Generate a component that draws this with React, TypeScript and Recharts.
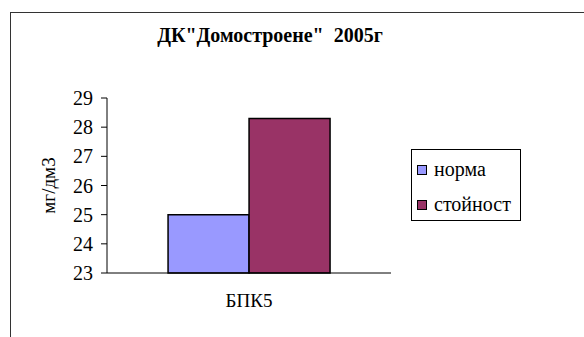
import React from "react";
import { BarChart, Bar, XAxis, YAxis, Legend } from "recharts";

const categories = ["БПК5"];
const normaValues = [25];
const stoynostValues = [28.3];
const yTicks = [23, 24, 25, 26, 27, 28, 29];
const seriesNames = ["норма", "стойност"];
const seriesColors = ["#9999FF", "#993366"];

const data = categories.map((c, i) => ({
  name: c,
  norma: normaValues[i],
  stoynost: stoynostValues[i],
}));

const FONT = "Liberation Serif, Tinos, DejaVu Serif, serif";

const LegendContent = () => (
  <div
    style={{
      border: "1px solid #000",
      background: "#fff",
      width: 110,
      height: 72,
      boxSizing: "border-box",
      fontFamily: FONT,
      fontSize: 20,
      color: "#000",
      paddingLeft: 5,
      paddingTop: 2,
    }}
  >
    {seriesNames.map((n, i) => (
      <div key={n} style={{ display: "flex", alignItems: "center", height: 35 }}>
        <span
          style={{
            display: "inline-block",
            width: 8,
            height: 8,
            background: seriesColors[i],
            border: "1.5px solid #000",
            marginRight: 7,
          }}
        />
        <span>{n}</span>
      </div>
    ))}
  </div>
);

export default function App() {
  return (
    <div
      style={{
        position: "absolute",
        left: 0,
        top: 0,
        width: 584,
        height: 337,
        overflow: "hidden",
        background: "#fff",
      }}
    >
      <div
        style={{
          position: "absolute",
          left: 10,
          top: 12,
          width: 700,
          height: 500,
          borderLeft: "1.5px solid #333",
          borderTop: "1.5px solid #333",
        }}
      />
      <div
        style={{
          position: "absolute",
          left: 0,
          width: 540,
          top: 24,
          textAlign: "center",
          fontFamily: FONT,
          fontWeight: "bold",
          fontSize: 20,
          whiteSpace: "pre",
          color: "#000",
        }}
      >
        {'ДК"Домостроене"  2005г'}
      </div>
      <div style={{ position: "absolute", left: 0, top: 0 }}>
        <BarChart
          width={584}
          height={337}
          data={data}
          margin={{ top: 98, right: 193, left: 0, bottom: 34 }}
          barCategoryGap="21.5%"
          barGap={0}
        >
          <XAxis
            dataKey="name"
            xAxisId="cat"
            height={30}
            tickLine={false}
            axisLine={{ stroke: "#000", strokeWidth: 1 }}
            tick={{ fill: "#000", fontFamily: FONT, fontSize: 19 }}
            tickMargin={15}
          />
          <XAxis
            xAxisId="edge"
            type="number"
            domain={[0, 1]}
            ticks={[0, 1]}
            height={0}
            axisLine={false}
            tick={false}
            tickLine={{ stroke: "#000" }}
            tickSize={7}
          />
          <YAxis
            width={107}
            domain={[23, 29]}
            ticks={yTicks}
            interval={0}
            tickLine={{ stroke: "#000" }}
            tickSize={6}
            tickMargin={8}
            axisLine={{ stroke: "#000" }}
            tick={{ fill: "#000", fontFamily: FONT, fontSize: 20 }}
            label={{
              value: "мг/дм3",
              angle: -90,
              position: "center",
              dx: -5,
              style: { fill: "#000", fontFamily: FONT, fontSize: 19 },
            }}
          />
          <Legend
            layout="vertical"
            align="center"
            verticalAlign="middle"
            content={<LegendContent />}
            wrapperStyle={{ left: 411, top: 149, width: 110 }}
          />
          <Bar
            xAxisId="cat"
            dataKey="norma"
            name={seriesNames[0]}
            fill={seriesColors[0]}
            stroke="#000"
            strokeWidth={1.5}
            isAnimationActive={false}
          />
          <Bar
            xAxisId="cat"
            dataKey="stoynost"
            name={seriesNames[1]}
            fill={seriesColors[1]}
            stroke="#000"
            strokeWidth={1.5}
            isAnimationActive={false}
          />
        </BarChart>
      </div>
    </div>
  );
}
